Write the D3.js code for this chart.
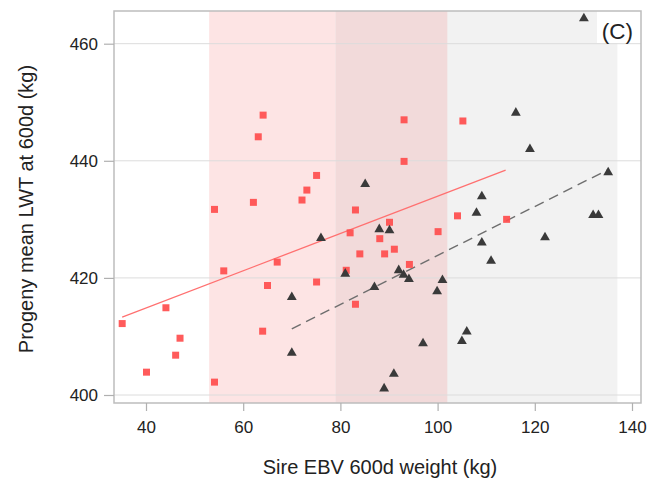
<!DOCTYPE html>
<html><head><meta charset="utf-8">
<script src="https://cdn.jsdelivr.net/npm/d3@7"></script>
<style>body{margin:0;background:#fff}svg{display:block}text{font-family:"Liberation Sans",Arial,sans-serif;fill:#222}</style>
</head><body><svg id="c" width="651" height="481"></svg>
<script>
const squareX = [35.1,40.1,44.1,46.1,47.0,54.1,54.1,56.0,62.1,63.1,64.1,64.0,65.0,67.0,72.1,73.1,75.1,75.1,81.2,82.0,83.1,83.1,84.0,88.1,89.1,90.1,91.1,93.1,93.1,94.2,100.1,104.1,105.2,114.2];
const squareY = [412.2,403.9,414.9,406.8,409.7,431.7,402.2,421.2,432.9,444.1,447.8,410.9,418.7,422.7,433.3,435.0,437.5,419.3,421.3,427.7,431.6,415.5,424.1,426.7,424.1,429.5,424.9,447.0,439.9,422.3,427.9,430.6,446.8,430.0];
const triX = [70.0,70.0,76.0,81.0,85.1,87.0,88.0,89.0,90.1,91.0,92.0,93.0,94.1,97.0,99.9,101.0,105.0,106.0,108.0,109.1,109.1,111.0,116.1,119.0,122.1,130.1,132.0,133.1,135.1];
const triY = [416.7,407.2,426.8,420.7,436.0,418.4,428.3,401.1,428.1,403.6,421.3,420.5,419.8,408.8,417.7,419.6,409.2,410.8,431.1,433.9,426.0,422.9,448.2,442.0,426.9,464.3,430.7,430.7,438.0];
const redLineX = [35.1,114.0], redLineY = [413.3,438.4];
const greyLineX = [70.0,135.1], greyLineY = [411.3,438.5];
const pinkBand = [53,102], greyBand = [79,137];
const xTicks = [40,60,80,100,120,140];
const yTicks = [400,420,440,460];
const xLabel = "Sire EBV 600d weight (kg)";
const yLabel = "Progeny mean LWT at 600d (kg)";
const panelLabel = "(C)";

const svg = d3.select("#c");
const L=114,R=641,T=11,B=403;
const x = d3.scaleLinear().domain([40,140]).range([146,632]);
const y = d3.scaleLinear().domain([400,460]).range([395,43.7]);

svg.append("rect").attr("x",x(pinkBand[0])).attr("y",T).attr("width",x(pinkBand[1])-x(pinkBand[0])).attr("height",B-T).attr("fill","#fde4e4");
svg.append("rect").attr("x",x(greyBand[0])).attr("y",T).attr("width",x(greyBand[1])-x(greyBand[0])).attr("height",B-T).attr("fill","#f2f2f2");
svg.append("rect").attr("x",x(greyBand[0])).attr("y",T).attr("width",x(pinkBand[1])-x(greyBand[0])).attr("height",B-T).attr("fill","#f2dada");

// grid
svg.append("g").selectAll("line").data(yTicks).join("line")
  .attr("x1",L).attr("x2",R).attr("y1",d=>y(d)).attr("y2",d=>y(d)).attr("stroke","#dcdcdc").attr("stroke-width",1);

// label box
svg.append("rect").attr("x",597).attr("y",T).attr("width",R-597).attr("height",32).attr("fill","#fff");
svg.append("text").attr("x",633).attr("y",39).attr("text-anchor","end").attr("font-size",22.5).text(panelLabel);

// frame
svg.append("rect").attr("x",L).attr("y",T).attr("width",R-L).attr("height",B-T).attr("fill","none").attr("stroke","#bdbdbd").attr("stroke-width",1.5);

// axes
const xa = svg.append("g").attr("transform",`translate(0,${B})`).call(d3.axisBottom(x).tickValues(xTicks).tickSize(8).tickPadding(10).tickFormat(d3.format("d")));
const ya = svg.append("g").attr("transform",`translate(${L},0)`).call(d3.axisLeft(y).tickValues(yTicks).tickSize(10).tickPadding(6).tickFormat(d3.format("d")));
[xa,ya].forEach(a=>{a.select(".domain").remove();a.selectAll("line").attr("stroke","#b0b0b0").attr("stroke-width",1.2);a.selectAll("text").attr("font-size",17).attr("fill","#222").attr("font-family","'Liberation Sans',Arial,sans-serif");});

// lines
const lg = d3.line().x(d=>x(d[0])).y(d=>y(d[1]));
svg.append("path").attr("d",lg(d3.zip(redLineX,redLineY))).attr("stroke","#ff7070").attr("stroke-width",1.3).attr("fill","none");
svg.append("path").attr("d",lg(d3.zip(greyLineX,greyLineY))).attr("stroke","#6e6e6e").attr("stroke-width",1.4).attr("stroke-dasharray","10,6").attr("fill","none");

// points
const sq = d3.symbol().type(d3.symbolSquare).size(49);
svg.append("g").selectAll("path").data(d3.zip(squareX,squareY)).join("path")
  .attr("d",sq).attr("transform",d=>`translate(${x(d[0])},${y(d[1])})`).attr("fill","#ff4d4d").attr("fill-opacity",0.92);
const tr = d3.symbol().type(d3.symbolTriangle).size(42);
svg.append("g").selectAll("path").data(d3.zip(triX,triY)).join("path")
  .attr("d",tr).attr("transform",d=>`translate(${x(d[0])},${y(d[1])})`).attr("fill","#3a3a3a");

svg.append("text").attr("x",380).attr("y",474).attr("text-anchor","middle").attr("font-size",20).text(xLabel);
svg.append("text").attr("transform","translate(33,209) rotate(-90)").attr("text-anchor","middle").attr("font-size",20).text(yLabel);
</script></body></html>
